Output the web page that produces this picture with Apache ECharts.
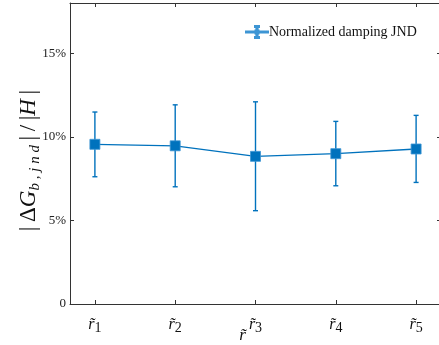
<!DOCTYPE html>
<html><head><meta charset="utf-8">
<script src="https://cdn.jsdelivr.net/npm/echarts@6/dist/echarts.min.js"></script>
<style>html,body{margin:0;padding:0;background:#fff}#c{width:439px;height:345px}</style>
</head><body><div id="c"></div>
<script>
// Data
const categories = [1, 2, 3, 4, 5];            // r̃1 .. r̃5
const tickSubscripts = ['1', '2', '3', '4', '5'];
const jndMean = [9.55, 9.46, 8.83, 8.99, 9.27];   // %
const jndHigh = [11.48, 11.91, 12.09, 10.92, 11.28];
const jndLow = [7.61, 7.01, 5.58, 7.07, 7.27];
const yTicks = [0, 5, 10, 15];
const seriesName = 'Normalized damping JND';

const BLUE = '#0072BD';
const AX = '#333333';
const SERIF = '"Liberation Serif", "DejaVu Serif", serif';

const chart = echarts.init(document.getElementById('c'), null, {renderer: 'canvas'});

const errData = categories.map((c, i) => [c, jndLow[i], jndHigh[i]]);
const lineData = categories.map((c, i) => [c, jndMean[i]]);

chart.setOption({
  animation: false,
  grid: {left: 70, top: 3, right: -2, bottom: 41, containLabel: false, outerBoundsMode: 'none'},
  legend: {
    left: 240, top: 20,
    itemWidth: 22, itemHeight: 12, itemGap: 2,
    textStyle: {fontFamily: SERIF, fontSize: 14, color: '#111', padding: [0, 0, 0, -4]},
    icon: 'path://M0,5.4h22v1.2h-22z M10.4,0h1.2v12h-1.2z M9,0h4v1h-4z M9,11h4v1h-4z M9.5,4.5h3v3h-3z',
    data: [{name: seriesName, itemStyle: {color: BLUE}}]
  },
  xAxis: [{
    type: 'value', min: 0.69, max: 5.31, position: 'bottom',
    name: '{r|r\u0303}', nameLocation: 'middle', nameGap: 23, nameMoveOverlap: false,
    nameTextStyle: {padding: [0, 26, 0, 0], rich: {r: {fontFamily: SERIF, fontStyle: 'italic', fontSize: 17, color: '#111'}}},
    axisLine: {show: true, onZero: false, lineStyle: {color: AX, width: 1}},
    axisTick: {show: true, inside: true, length: 4, customValues: categories, lineStyle: {color: AX}},
    axisLabel: {
      customValues: categories, margin: 10,
      formatter: v => '{r|r\u0303}{s|' + tickSubscripts[Math.round(v) - 1] + '}',
      rich: {
        r: {fontFamily: SERIF, fontStyle: 'italic', fontSize: 16, color: '#111'},
        s: {fontFamily: SERIF, fontSize: 14, color: '#111', padding: [7, 0, 0, 0]}
      }
    },
    splitLine: {show: false}
  }, {
    type: 'value', min: 0.69, max: 5.31, position: 'top',
    axisLine: {show: true, onZero: false, lineStyle: {color: AX, width: 1}},
    axisTick: {show: true, inside: true, length: 4, customValues: categories, lineStyle: {color: AX}},
    axisLabel: {show: false}, splitLine: {show: false}
  }],
  yAxis: [{
    type: 'value', min: 0, max: 18, position: 'left',
    name: '{a|\u007C\u2009\u0394}{g|G}{s|b , j n d}{a|\u2009\u007C\u2009/\u2009\u007C}{g|H}{a|\u2009\u007C}',
    nameLocation: 'middle', nameGap: 27, nameRotate: 90, nameMoveOverlap: false,
    nameTextStyle: {
      padding: [0, 14, 0, 0],
      rich: {
        a: {fontFamily: SERIF, fontSize: 23, color: '#111'},
        g: {fontFamily: SERIF, fontStyle: 'italic', fontSize: 23, color: '#111'},
        s: {fontFamily: SERIF, fontStyle: 'italic', fontSize: 15, color: '#111', padding: [13, 0, 0, 0]}
      }
    },
    axisLine: {show: true, onZero: false, lineStyle: {color: AX, width: 1}},
    axisTick: {show: true, inside: true, length: 4, customValues: yTicks, lineStyle: {color: AX}},
    axisLabel: {
      customValues: yTicks, margin: 4,
      fontFamily: SERIF, fontSize: 13, color: '#222',
      formatter: v => v === 0 ? '0' : v + '%'
    },
    splitLine: {show: false}
  }, {
    type: 'value', min: 0, max: 18, position: 'right',
    axisLine: {show: true, onZero: false, lineStyle: {color: AX, width: 1}},
    axisTick: {show: true, inside: true, length: 4, customValues: yTicks, lineStyle: {color: AX}},
    axisLabel: {show: false}, splitLine: {show: false}
  }],
  series: [{
    type: 'custom', name: 'err', xAxisIndex: 0, yAxisIndex: 0,
    data: errData, z: 2,
    renderItem: function (params, api) {
      const x = api.value(0);
      const lo = api.coord([x, api.value(1)]);
      const hi = api.coord([x, api.value(2)]);
      const w = 2.5;
      const st = {stroke: BLUE, lineWidth: 1.4};
      return {
        type: 'group',
        children: [
          {type: 'line', shape: {x1: lo[0], y1: lo[1], x2: hi[0], y2: hi[1]}, style: st},
          {type: 'line', shape: {x1: lo[0] - w, y1: lo[1], x2: lo[0] + w, y2: lo[1]}, style: st},
          {type: 'line', shape: {x1: hi[0] - w, y1: hi[1], x2: hi[0] + w, y2: hi[1]}, style: st}
        ]
      };
    }
  }, {
    type: 'line', name: seriesName, xAxisIndex: 0, yAxisIndex: 0,
    data: lineData, z: 3,
    symbol: 'rect', symbolSize: 10,
    lineStyle: {color: BLUE, width: 1.3},
    itemStyle: {color: BLUE, borderColor: '#3d95d4', borderWidth: 0.8}
  }]
});
</script></body></html>
